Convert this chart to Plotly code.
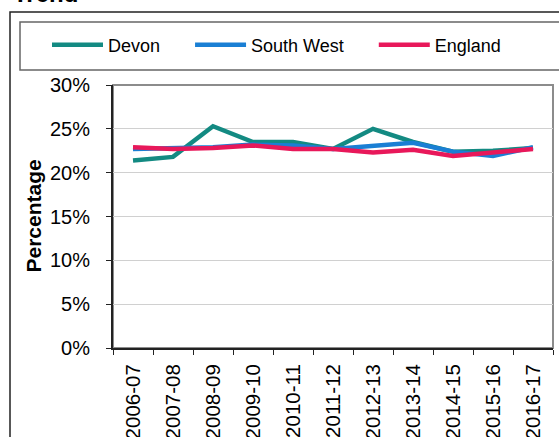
import plotly.graph_objects as go

years = ["2006-07", "2007-08", "2008-09", "2009-10", "2010-11", "2011-12",
         "2012-13", "2013-14", "2014-15", "2015-16", "2016-17"]
devon = [21.4, 21.8, 25.3, 23.5, 23.5, 22.7, 25.0, 23.5, 22.4, 22.5, 22.8]
south_west = [22.7, 22.8, 22.9, 23.2, 23.1, 22.7, 23.0, 23.4, 22.4, 21.9, 22.9]
england = [22.9, 22.7, 22.8, 23.1, 22.7, 22.7, 22.3, 22.6, 21.9, 22.3, 22.7]

series = [("Devon", devon, "#138a82"),
          ("South West", south_west, "#1a7fd4"),
          ("England", england, "#e8185a")]

FONT = "Liberation Sans, Arial, sans-serif"
PAD = "\u00a0" * 5

fig = go.Figure()
for name, vals, col in series:
    fig.add_trace(go.Scatter(
        x=years, y=[v / 100 for v in vals], name=name + PAD, mode="lines",
        line=dict(color=col, width=4.5),
    ))

L, R, T, B = 113, 6, 85, 89
W, H = 559, 437
pw, ph = W - L - R, H - T - B

def px_x(x):
    return (x - L) / pw

def px_y(y):
    return (H - B - y) / ph

fig.update_layout(
    width=W, height=H,
    margin=dict(l=L, r=R, t=T, b=B, autoexpand=False),
    paper_bgcolor="white", plot_bgcolor="white",
    font=dict(family=FONT, size=18, color="black"),
    showlegend=True,
    legend=dict(orientation="h", x=px_x(47), y=px_y(45), xanchor="left", yanchor="middle",
                font=dict(size=18), itemwidth=51,
                bgcolor="rgba(0,0,0,0)"),
    xaxis=dict(
        type="category", range=[-0.5, 10.5], automargin=False,
        showline=True, linecolor="#222", linewidth=2,
        ticks="outside", tickson="boundaries", ticklen=5, tickcolor="#222", tickwidth=1,
        tickangle=-90, tickfont=dict(size=20.5), showgrid=False, ticklabelstandoff=6,
    ),
    yaxis=dict(
        range=[0, 0.30], dtick=0.05, tickformat=".0%", automargin=False,
        showline=True, linecolor="#222", linewidth=2,
        ticks="outside", ticklen=5, tickcolor="#222",
        showgrid=True, gridcolor="#d0d0d0", gridwidth=1,
        tickfont=dict(size=20), zeroline=False, ticklabelstandoff=12,
    ),
    shapes=[
        dict(type="rect", xref="paper", yref="paper", x0=0, x1=1, y0=0, y1=1,
             line=dict(color="#8c8c8c", width=2), layer="below"),
        dict(type="rect", xref="paper", yref="paper", x0=px_x(10), x1=px_x(600),
             y0=px_y(600), y1=px_y(12), line=dict(color="#222", width=1.5)),
        dict(type="rect", xref="paper", yref="paper", x0=px_x(20), x1=px_x(600),
             y0=px_y(70), y1=px_y(22), line=dict(color="#666", width=1.5)),
    ],
    annotations=[
        dict(text="<b>Trend</b>", xref="paper", yref="paper", x=px_x(11), y=px_y(9),
             xanchor="left", yanchor="bottom", showarrow=False, font=dict(size=24)),
        dict(text="<b>Percentage</b>", xref="paper", yref="paper", x=px_x(33), y=0.5,
             xanchor="center", yanchor="middle", textangle=-90, showarrow=False,
             font=dict(size=21)),
    ],
)

fig.write_html("out.html", config={"displayModeBar": False},
               post_script="document.body.style.margin='0';")
